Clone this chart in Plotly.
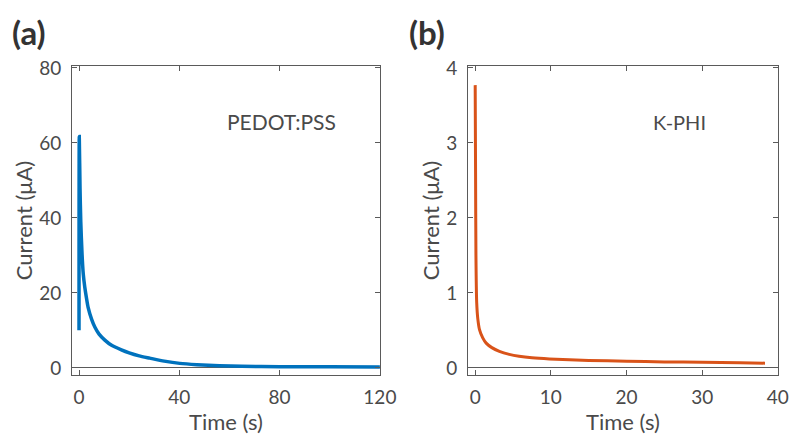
import plotly.graph_objects as go

# Panel (a) PEDOT:PSS
pedot_t = [0.0, 0.1, 0.4, 0.7, 1.2, 1.7, 2.3, 3.0, 3.6, 5.0, 6.3, 8.0, 10.3, 13.0, 16.9, 20.0, 24.0, 28.2, 34.0, 40.2, 47.0, 56.0, 65.0, 80.0, 100.0, 120.0]
pedot_i = [10.0, 61.7, 48.0, 39.0, 30.4, 25.0, 21.5, 18.5, 16.2, 13.0, 10.9, 9.0, 7.4, 6.0, 4.8, 4.0, 3.2, 2.6, 1.8, 1.2, 0.85, 0.55, 0.42, 0.32, 0.28, 0.25]

# Panel (b) K-PHI
kphi_t = [0.0, 0.05, 0.1, 0.2, 0.35, 0.57, 1.0, 1.45, 2.2, 3.2, 4.5, 5.8, 7.5, 9.8, 15.0, 20.0, 25.0, 30.0, 35.0, 38.3]
kphi_i = [3.77, 2.6, 1.5, 0.87, 0.65, 0.51, 0.40, 0.33, 0.27, 0.22, 0.18, 0.155, 0.135, 0.12, 0.10, 0.09, 0.08, 0.075, 0.068, 0.063]

x_ticks_a = [0, 40, 80, 120]
y_ticks_a = [0, 20, 40, 60, 80]
x_ticks_b = [0, 10, 20, 30, 40]
y_ticks_b = [0, 1, 2, 3, 4]

FONT = "Lato"
TXT = "#4a4a4a"
AX = "#5a5a5a"

fig = go.Figure()
fig.add_trace(go.Scatter(x=pedot_t, y=pedot_i, mode="lines",
                         line=dict(color="#0072BD", width=3.5, shape="spline", smoothing=0.6),
                         xaxis="x", yaxis="y", showlegend=False))
fig.add_trace(go.Scatter(x=kphi_t, y=kphi_i, mode="lines",
                         line=dict(color="#D95319", width=3, shape="spline", smoothing=0.6),
                         xaxis="x2", yaxis="y2", showlegend=False))

def xax(domain, rng, ticks, anchor):
    return dict(domain=domain, range=rng, tickvals=ticks, anchor=anchor,
                showline=True, linecolor=AX, linewidth=1, mirror="ticks",
                ticks="inside", ticklen=5, tickcolor=AX, tickwidth=1,
                showgrid=False, zeroline=False, automargin=False,
                tickfont=dict(family=FONT, size=19, color=TXT),
                ticklabelstandoff=5,
                title=dict(text="Time (s)", font=dict(family=FONT, size=22, color=TXT), standoff=10))

def yax(domain, rng, ticks, anchor):
    return dict(domain=domain, range=rng, tickvals=ticks, anchor=anchor,
                showline=True, linecolor=AX, linewidth=1, mirror="ticks",
                ticks="inside", ticklen=5, tickcolor=AX, tickwidth=1,
                showgrid=False, zeroline=True, zerolinecolor=AX, zerolinewidth=1,
                automargin=False,
                tickfont=dict(family=FONT, size=19, color=TXT),
                ticklabelstandoff=6,
                title=dict(text="Current (μA)", font=dict(family=FONT, size=22, color=TXT), standoff=0))

ydom = [1 - 375 / 435, 1 - 66 / 435]
fig.update_layout(
    width=789, height=435,
    margin=dict(l=0, r=0, t=0, b=0, autoexpand=False),
    paper_bgcolor="white", plot_bgcolor="white",
    xaxis=xax([72 / 789, 380 / 789], [-2.8, 120.05], x_ticks_a, "y"),
    yaxis=yax(ydom, [-1.9, 80.5], y_ticks_a, "x"),
    xaxis2=xax([468 / 789, 778 / 789], [-0.95, 40.02], x_ticks_b, "y2"),
    yaxis2=yax(ydom, [-0.095, 4.025], y_ticks_b, "x2"),
    annotations=[
        dict(text="<b>(a)</b>", x=10 / 789, y=1 - 32 / 435, xref="paper", yref="paper",
             xanchor="left", yanchor="middle", showarrow=False,
             font=dict(family=FONT, size=33, color="#333333")),
        dict(text="<b>(b)</b>", x=407 / 789, y=1 - 32 / 435, xref="paper", yref="paper",
             xanchor="left", yanchor="middle", showarrow=False,
             font=dict(family=FONT, size=33, color="#333333")),
        dict(text="PEDOT:PSS", x=281 / 789, y=1 - 122 / 435, xref="paper", yref="paper",
             xanchor="center", yanchor="middle", showarrow=False,
             font=dict(family=FONT, size=21, color=TXT)),
        dict(text="K-PHI", x=679 / 789, y=1 - 122 / 435, xref="paper", yref="paper",
             xanchor="center", yanchor="middle", showarrow=False,
             font=dict(family=FONT, size=20, color=TXT)),
    ],
)

fig.write_html("out.html")
